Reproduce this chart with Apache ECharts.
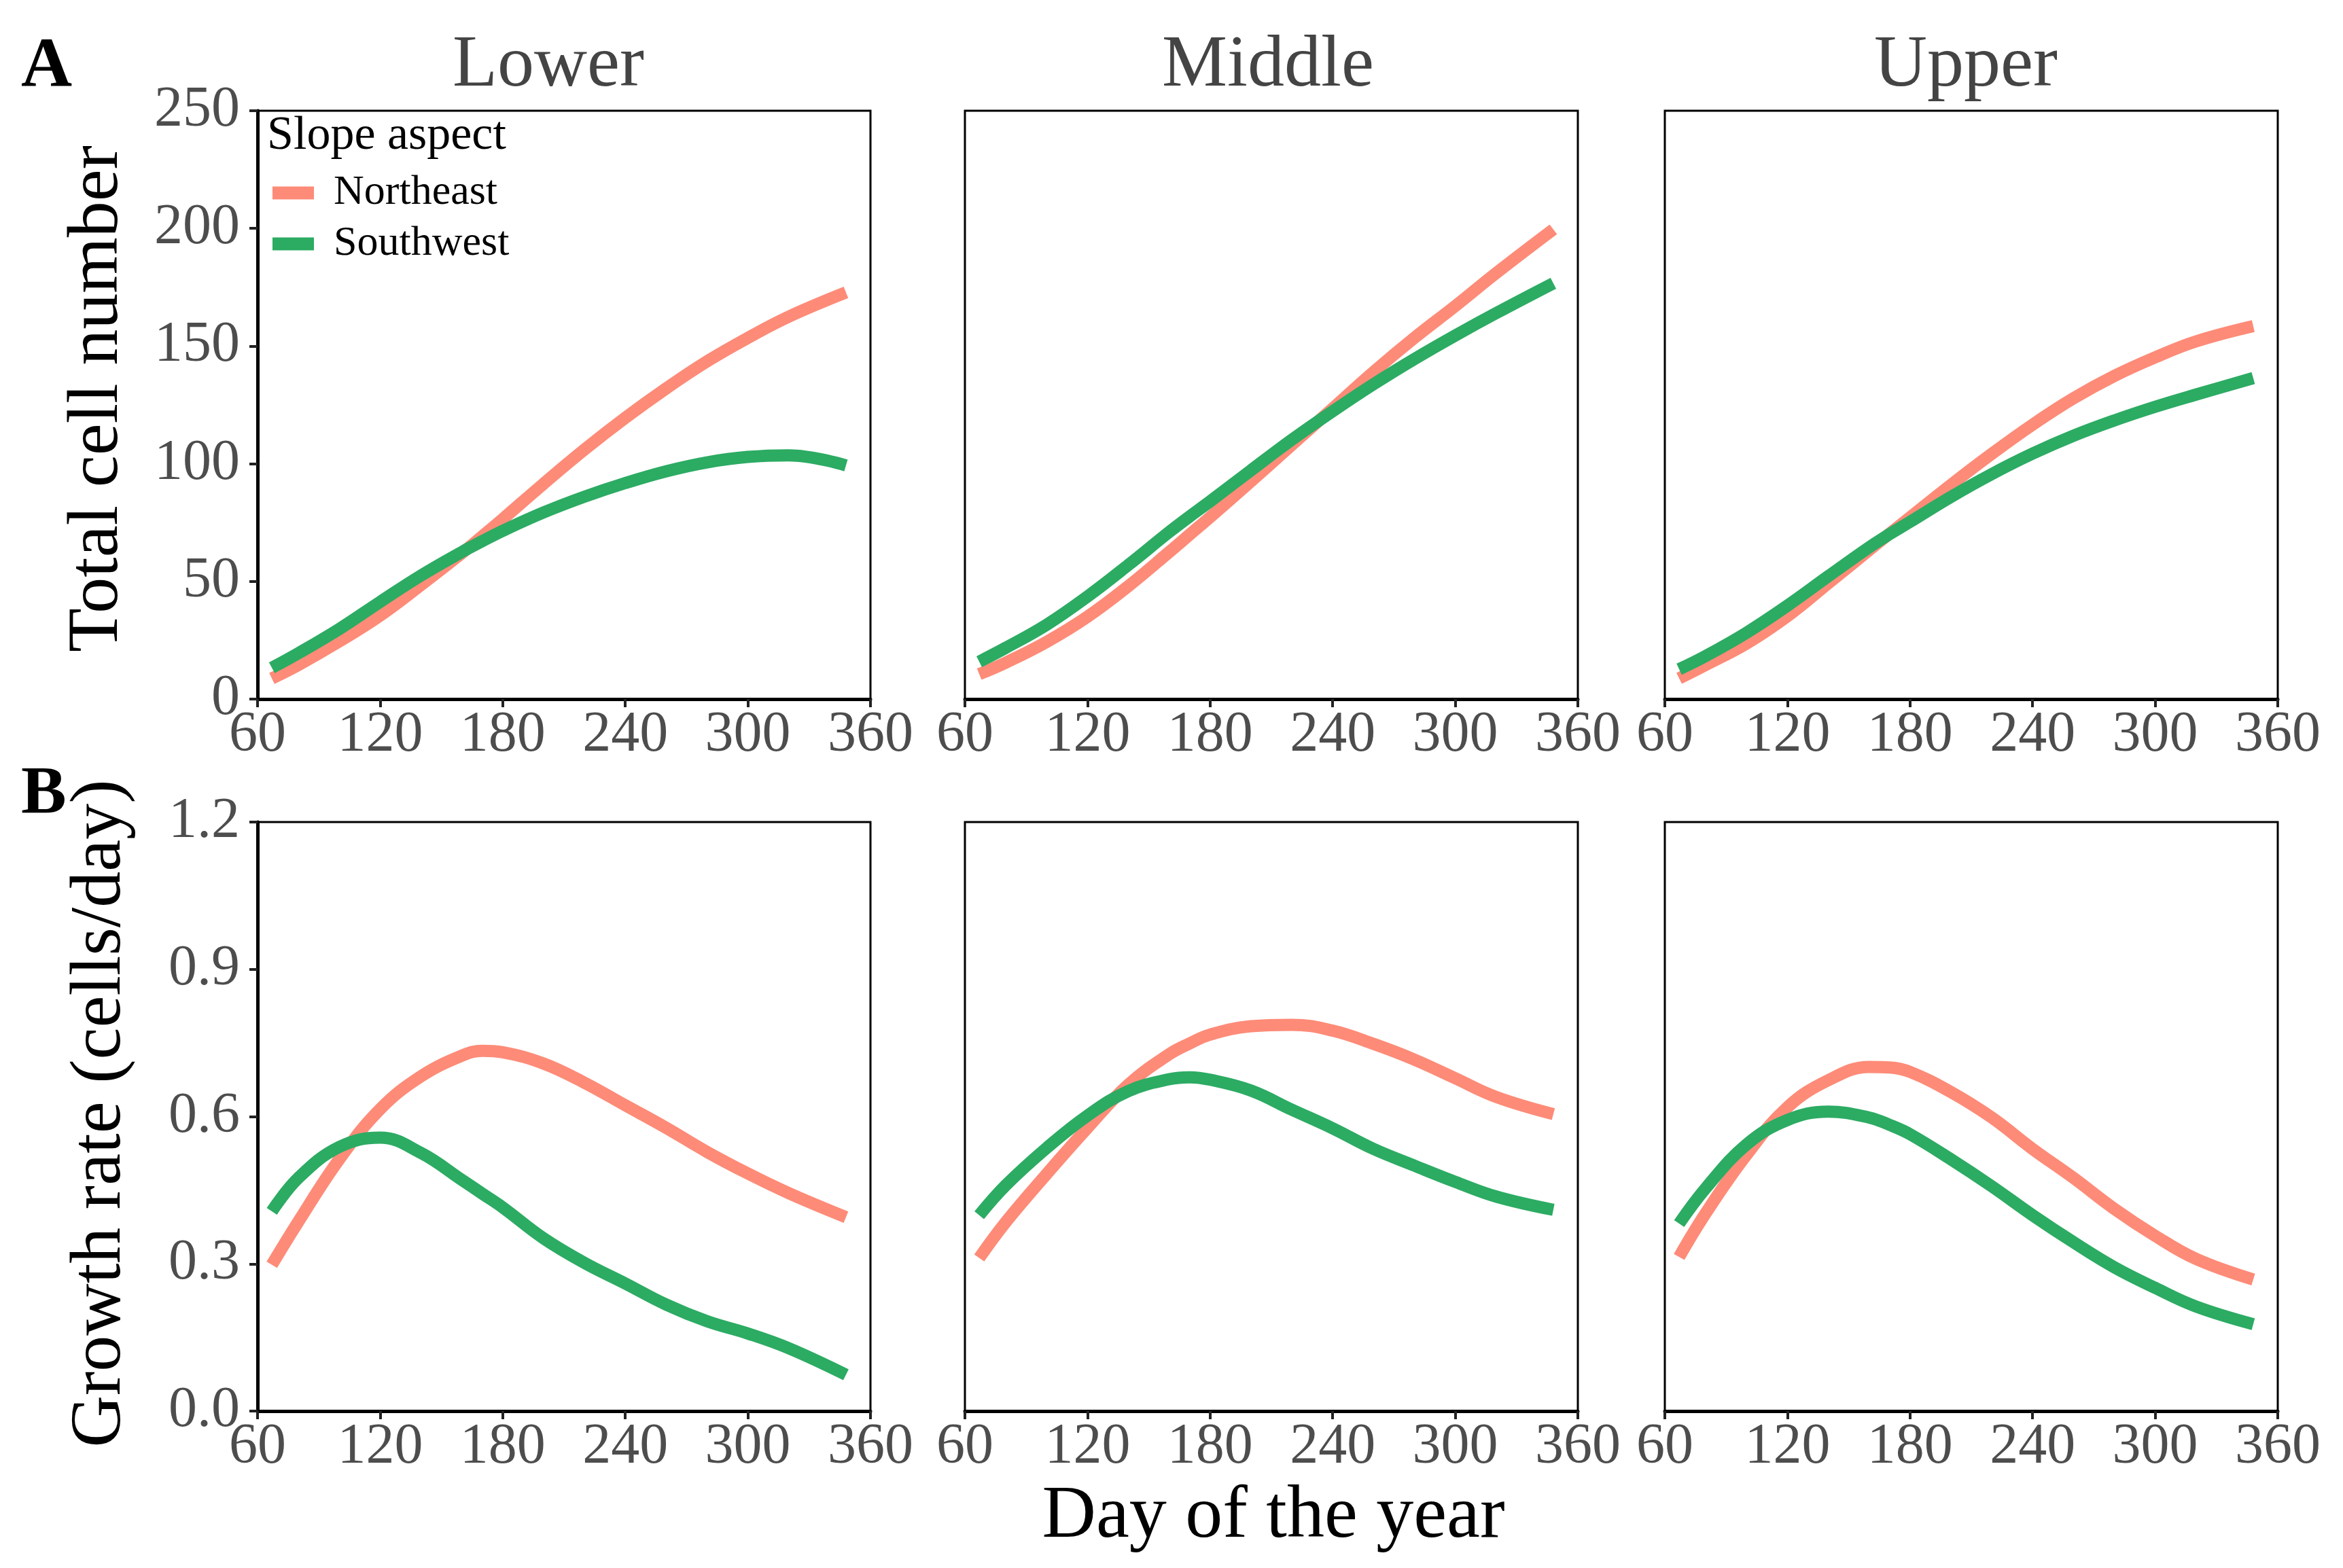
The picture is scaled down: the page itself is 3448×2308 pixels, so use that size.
<!DOCTYPE html>
<html>
<head>
<meta charset="utf-8">
<script src="https://cdn.jsdelivr.net/npm/echarts@6/dist/echarts.min.js"></script>
<style>
html,body{margin:0;padding:0;background:#fff;}
#c{width:3448px;height:2308px;}
</style>
</head>
<body>
<div id="c"></div>
<script>
// ---- data ----
const days = [67, 80, 100, 120, 140, 160, 170, 180, 200, 220, 240, 260, 280, 300, 320, 348];
const siteNames = ["Lower", "Middle", "Upper"];
const aspectNames = ["Northeast", "Southwest"];
const xTicks = [60, 120, 180, 240, 300, 360];
const totalTicks = [0, 50, 100, 150, 200, 250];
const rateTicks = [0.0, 0.3, 0.6, 0.9, 1.2];

// Total cell number (panel A)
const totalLowerNE  = [8.8, 14.5, 24.5, 35.5, 48.5, 62, 69.2, 76.5, 91.5, 106, 119.5, 132, 143.5, 153.5, 162.5, 172.8];
const totalLowerSW  = [13.3, 19.5, 29.8, 41.3, 52.5, 62.5, 67.1, 71.5, 79.3, 86, 91.8, 96.8, 100.6, 102.9, 103.6, 99.3];
const totalMiddleNE = [10.6, 15.5, 24.3, 35, 48, 62.5, 69.9, 77.3, 92.5, 108, 123.5, 139, 153.5, 167, 181, 199.6];
const totalMiddleSW = [15.9, 21.8, 31.6, 43.6, 57, 71, 77.6, 84, 97.2, 110.2, 122.3, 133.8, 144.5, 154.5, 164, 176.7];
const totalUpperNE  = [8.8, 14.5, 23.6, 35.2, 49.2, 63.3, 70.3, 77.2, 91, 104.2, 116.6, 127.8, 137.3, 145.2, 152, 158.5];
const totalUpperSW  = [12.7, 18.3, 28.2, 39.7, 52.2, 64.5, 70.1, 75.3, 85.9, 95.6, 104.3, 111.9, 118.4, 124.2, 129.4, 136.4];

// Growth rate (panel B)
const rateLowerNE  = [0.298, 0.386, 0.513, 0.615, 0.682, 0.724, 0.734, 0.731, 0.708, 0.669, 0.623, 0.577, 0.528, 0.484, 0.444, 0.395];
const rateLowerSW  = [0.407, 0.475, 0.538, 0.557, 0.526, 0.471, 0.443, 0.415, 0.352, 0.302, 0.260, 0.217, 0.183, 0.158, 0.128, 0.074];
const rateMiddleNE = [0.312, 0.385, 0.483, 0.577, 0.665, 0.727, 0.749, 0.767, 0.784, 0.787, 0.775, 0.748, 0.716, 0.678, 0.640, 0.605];
const rateMiddleSW = [0.399, 0.460, 0.536, 0.602, 0.652, 0.676, 0.680, 0.675, 0.653, 0.614, 0.576, 0.534, 0.500, 0.467, 0.437, 0.410];
const rateUpperNE  = [0.314, 0.403, 0.522, 0.619, 0.674, 0.701, 0.700, 0.691, 0.650, 0.598, 0.534, 0.475, 0.412, 0.357, 0.310, 0.268];
const rateUpperSW  = [0.382, 0.454, 0.543, 0.593, 0.610, 0.598, 0.583, 0.564, 0.513, 0.458, 0.399, 0.344, 0.293, 0.251, 0.213, 0.177];

const panels = [
  [totalLowerNE, totalLowerSW], [totalMiddleNE, totalMiddleSW], [totalUpperNE, totalUpperSW],
  [rateLowerNE, rateLowerSW], [rateMiddleNE, rateMiddleSW], [rateUpperNE, rateUpperSW]
];

// ---- style / layout ----
const FONT = "'Liberation Serif','Times New Roman',serif";
const colors = ["#FD8B78", "#2CAB63"];
const colLeft = [379, 1420, 2450];
const colWidth = 902;
const rowTop = [163, 1210];
const rowHeight = [866, 867];

const grids = [], xAxes = [], yAxes = [], series = [];
for (let r = 0; r < 2; r++) {
  for (let c = 0; c < 3; c++) {
    const i = r * 3 + c;
    grids.push({
      left: colLeft[c], top: rowTop[r], width: colWidth, height: rowHeight[r],
      show: true, borderColor: "#000", borderWidth: 3, backgroundColor: "#fff"
    });
    xAxes.push({
      type: "value", gridIndex: i, min: xTicks[0], max: xTicks[xTicks.length - 1], interval: 60,
      axisLine: { show: true, lineStyle: { color: "#000", width: 5 } },
      axisTick: { show: true, inside: false, length: 12, lineStyle: { color: "#222", width: 4 } },
      axisLabel: { show: true, color: "#4D4D4D", fontSize: 84, fontFamily: FONT, margin: 12,
                   showMinLabel: true, showMaxLabel: true },
      splitLine: { show: false }
    });
    const isTotal = r === 0;
    const ticks = isTotal ? totalTicks : rateTicks;
    const first = c === 0;
    yAxes.push({
      type: "value", gridIndex: i, min: ticks[0], max: ticks[ticks.length - 1],
      interval: isTotal ? 50 : 0.3,
      axisLine: { show: first, lineStyle: { color: "#000", width: 5 } },
      axisTick: { show: first, length: 12, lineStyle: { color: "#222", width: 4 } },
      axisLabel: { show: first, color: "#4D4D4D", fontSize: 84, fontFamily: FONT, margin: 26,
                   formatter: v => isTotal ? String(Math.round(v)) : v.toFixed(1),
                   showMinLabel: true, showMaxLabel: true },
      splitLine: { show: false }
    });
    for (let s = 0; s < 2; s++) {
      series.push({
        type: "line", name: aspectNames[s], xAxisIndex: i, yAxisIndex: i,
        data: days.map((d, j) => [d, panels[i][s][j]]),
        smooth: 0.4, showSymbol: false, symbol: "none",
        lineStyle: { color: colors[s], width: 18, cap: "butt" },
        itemStyle: { color: colors[s] },
        z: 3 + s, animation: false
      });
    }
  }
}

const titleCenters = [807, 1866, 2893];
const graphics = [];
siteNames.forEach((n, k) => {
  graphics.push({ type: "text", x: titleCenters[k], y: 98,
    style: { text: n, font: "108px " + FONT, fill: "#444444", align: "center", verticalAlign: "middle" } });
});
graphics.push({ type: "text", x: 31, y: 100,
  style: { text: "A", font: "bold 104px " + FONT, fill: "#000", align: "left", verticalAlign: "middle" } });
graphics.push({ type: "text", x: 31, y: 1170,
  style: { text: "B", font: "bold 100px " + FONT, fill: "#000", align: "left", verticalAlign: "middle" } });
graphics.push({ type: "text", x: 144, y: 587, rotation: Math.PI / 2,
  style: { text: "Total cell number", font: "106px " + FONT, fill: "#000", align: "center", verticalAlign: "middle" } });
graphics.push({ type: "text", x: 148, y: 1639, rotation: Math.PI / 2,
  style: { text: "Growth rate (cells/day)", font: "106px " + FONT, fill: "#000", align: "center", verticalAlign: "middle" } });
graphics.push({ type: "text", x: 1874, y: 2233,
  style: { text: "Day of the year", font: "110px " + FONT, fill: "#000", align: "center", verticalAlign: "middle" } });
graphics.push({ type: "text", x: 393, y: 201, z: 10,
  style: { text: "Slope aspect", font: "70px " + FONT, fill: "#000", align: "left", verticalAlign: "middle" } });

const option = {
  backgroundColor: "#fff",
  animation: false,
  grid: grids,
  xAxis: xAxes,
  yAxis: yAxes,
  legend: {
    data: aspectNames, orient: "vertical", left: 396, top: 248,
    itemWidth: 61, itemHeight: 19, itemGap: 13, selectedMode: false,
    icon: "rect",
    textStyle: { fontSize: 62, fontFamily: FONT, color: "#000", lineHeight: 62, padding: [0, 0, 0, 24] },
    z: 10
  },
  graphic: graphics,
  series: series
};

const chart = echarts.init(document.getElementById("c"), null, { renderer: "canvas" });
chart.setOption(option);
</script>
</body>
</html>
